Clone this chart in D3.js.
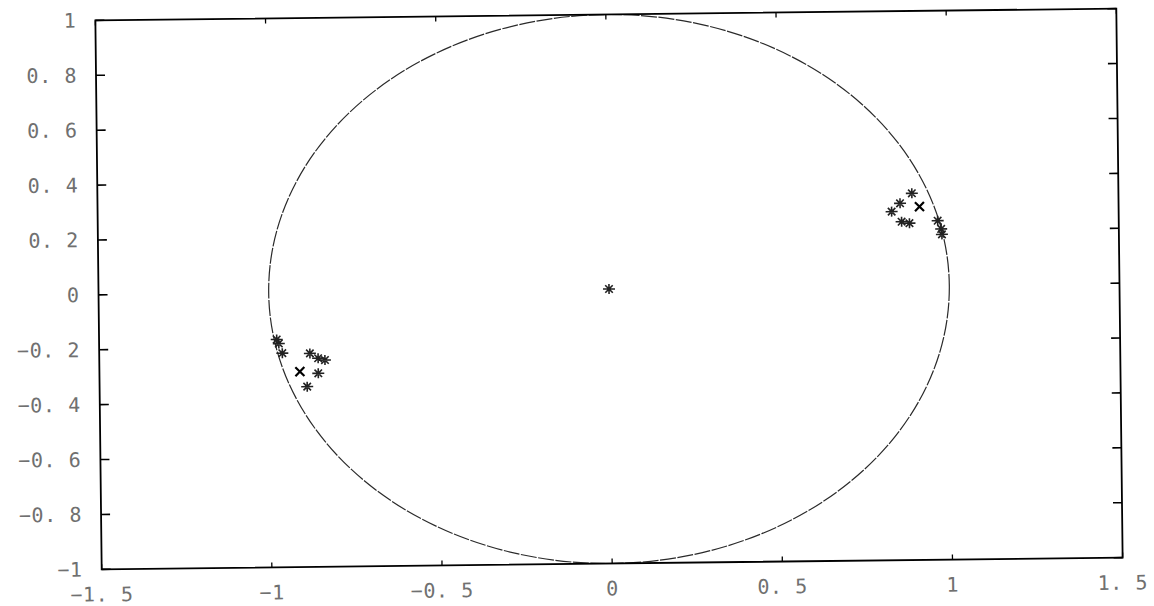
<!DOCTYPE html>
<html>
<head>
<meta charset="utf-8">
<script src="https://cdn.jsdelivr.net/npm/d3@7/dist/d3.min.js"></script>
<style>
  html, body { margin: 0; padding: 0; background: #fff; }
  svg { display: block; }
  .tick-label { font-family: "DejaVu Sans Mono", monospace; font-size: 20px; fill: #707070; letter-spacing: 0.6px; }
</style>
</head>
<body>
<svg id="chart" width="1154" height="606"></svg>
<script>
// Axis ranges and tick values
const xTicks = [-1.5, -1, -0.5, 0, 0.5, 1, 1.5];
const yTicks = [-1, -0.8, -0.6, -0.4, -0.2, 0, 0.2, 0.4, 0.6, 0.8, 1];

// Root locations in the complex plane (real, imaginary)
const starX = [0.893, 0.858, 0.833, 0.862, 0.885, 0.968, 0.978, 0.980,
               -0.890, -0.857, -0.837, -0.857, -0.881, -0.962, -0.972, -0.978,
               0.0];
const starY = [0.336, 0.300, 0.270, 0.233, 0.227, 0.235, 0.205, 0.185,
               -0.343, -0.295, -0.247, -0.240, -0.222, -0.220, -0.185, -0.170,
               0.0];
const crossX = [0.915, -0.911];
const crossY = [0.287, -0.288];

const frame = { left: 98.5, right: 1119.5, top: 14.5, bottom: 563.5 };
const cx = (frame.left + frame.right) / 2, cy = (frame.top + frame.bottom) / 2;

const svg = d3.select("#chart");
// the whole plot sits slightly tilted on the page
const g = svg.append("g").attr("transform", `rotate(-0.66, ${cx}, ${cy})`);

const x = d3.scaleLinear().domain([-1.5, 1.5]).range([frame.left, frame.right]);
const y = d3.scaleLinear().domain([-1, 1]).range([frame.bottom, frame.top]);

// "0.8" -> "0. 8", minus as a wide dash
const fmt = v => {
  const s = String(Math.abs(v)).replace(".", ". ");
  return (v < 0 ? "\u2212" : "") + s;
};

// unit circle
g.append("ellipse")
  .attr("cx", x(0)).attr("cy", y(0))
  .attr("rx", x(1) - x(0)).attr("ry", y(0) - y(1))
  .attr("fill", "none").attr("stroke", "#2a2a2a")
  .attr("stroke-width", 1.2).attr("stroke-dasharray", "16 1.5");

// frame
g.append("rect")
  .attr("x", frame.left).attr("y", frame.top)
  .attr("width", frame.right - frame.left).attr("height", frame.bottom - frame.top)
  .attr("fill", "none").attr("stroke", "#000").attr("stroke-width", 1.8);

// y ticks on both sides, pointing inward
const yt = g.append("g");
yTicks.forEach(v => {
  yt.append("line").attr("x1", frame.left).attr("x2", frame.left + 9)
    .attr("y1", y(v)).attr("y2", y(v)).attr("stroke", "#000").attr("stroke-width", 1.6);
  yt.append("line").attr("x1", frame.right).attr("x2", frame.right - 9)
    .attr("y1", y(v)).attr("y2", y(v)).attr("stroke", "#000").attr("stroke-width", 1.6);
  yt.append("text").attr("class", "tick-label")
    .attr("x", frame.left - 19).attr("y", y(v))
    .attr("text-anchor", "end").attr("dominant-baseline", "central")
    .text(fmt(v));
});

// x ticks on bottom and top, pointing inward
const xt = g.append("g");
xTicks.forEach(v => {
  xt.append("line").attr("x1", x(v)).attr("x2", x(v))
    .attr("y1", frame.bottom).attr("y2", frame.bottom - 5).attr("stroke", "#000").attr("stroke-width", 1.3);
  xt.append("line").attr("x1", x(v)).attr("x2", x(v))
    .attr("y1", frame.top).attr("y2", frame.top + 5).attr("stroke", "#000").attr("stroke-width", 1.3);
  xt.append("text").attr("class", "tick-label")
    .attr("x", x(v)).attr("y", frame.bottom + 25)
    .attr("text-anchor", "middle").attr("dominant-baseline", "central")
    .text(fmt(v));
});

// star markers
const r = 5;
const starPath = (px, py) => {
  const d = r * 0.75;
  return `M${px - r - 1},${py}L${px + r + 1},${py}` +
         `M${px},${py - r}L${px},${py + r}` +
         `M${px - d},${py - d}L${px + d},${py + d}` +
         `M${px - d},${py + d}L${px + d},${py - d}`;
};
g.append("g").selectAll("path")
  .data(d3.range(starX.length))
  .join("path")
  .attr("d", i => starPath(x(starX[i]), y(starY[i])))
  .attr("fill", "none").attr("stroke", "#222").attr("stroke-width", 1.6);

// cross markers
const c = 4.5;
g.append("g").selectAll("path")
  .data(d3.range(crossX.length))
  .join("path")
  .attr("d", i => {
    const px = x(crossX[i]), py = y(crossY[i]);
    return `M${px - c},${py - c}L${px + c},${py + c}M${px - c},${py + c}L${px + c},${py - c}`;
  })
  .attr("fill", "none").attr("stroke", "#000").attr("stroke-width", 2.2);
</script>
</body>
</html>
